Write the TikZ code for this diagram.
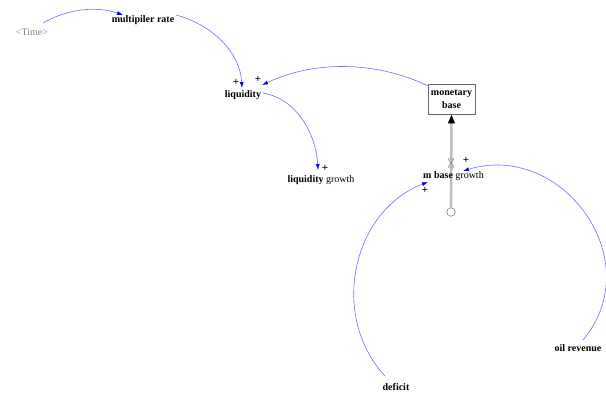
\documentclass[tikz,border=0pt]{standalone}
\usepackage{fontspec}
\setmainfont{Liberation Serif}
\usetikzlibrary{arrows.meta,calc,shapes.symbols}
\definecolor{linkblue}{RGB}{110,110,255}
\begin{document}
\begin{tikzpicture}[x=1pt,y=1pt,
  var/.style={font=\fontsize{10}{12}\selectfont\bfseries, inner sep=1pt},
  shadowvar/.style={font=\fontsize{10}{12}\selectfont, text=gray, inner sep=1pt},
  stockbox/.style={draw=gray!80!black, line width=0.8pt, minimum width=47pt, minimum height=30pt,
    inner sep=1pt, align=center, font=\fontsize{10}{13}\selectfont\bfseries},
  link/.style={draw=linkblue, line width=0.6pt, -{Latex[length=6pt,width=4pt,color=blue]}},
  polarity/.style={font=\fontsize{11}{11}\selectfont\bfseries, inner sep=0pt},
  flowpipe/.style={draw=gray!50, line width=2.6pt, -{Triangle[length=9pt,width=6.5pt,color=black]}},
  valvestyle/.style={minimum width=6pt, minimum height=8pt, inner sep=0pt,
    path picture={\draw[gray, line width=0.5pt]
      (path picture bounding box.north west) -- (path picture bounding box.north east)
      -- (path picture bounding box.south west) -- (path picture bounding box.south east) -- cycle;}},
  cloudstyle/.style={cloud, cloud puffs=8, aspect=1, draw=gray, fill=white, line width=0.5pt,
    minimum width=9pt, minimum height=9pt, inner sep=0pt}
]
\useasboundingbox (0,0) rectangle (606,-396);

% stock and flow
\node[stockbox] (mb) at (451.5,-99) {monetary\\base};
\node[cloudstyle] (cloud) at (451,-212) {};
\draw[flowpipe] (cloud.north) -- (mb.south);
\node[valvestyle] (valve) at (451,-163) {};

% variables
\node[shadowvar] (time) at (32,-32) {<Time>};
\node[var] (mr) at (143,-20) {multipiler rate};
\node[var] (liq) at (243,-95) {liquidity};
\node[var] (lg) at (321,-180) {liquidity \mdseries growth};
\node[var] (mbg) at (453.5,-176) {m base \mdseries growth};
\node[var] (oil) at (578,-348) {oil revenue};
\node[var] (def) at (396,-387) {deficit};

% causal links
\draw[link] ($(time)+(11,9)$) to[out=30,in=161,looseness=0.9] ($(mr)+(-20,5)$);
\draw[link] ($(mr)+(33,5)$) to[out=-15,in=93,looseness=0.95] ($(liq)+(-1,7)$);
\draw[link] ($(mb.north west)+(0,-2)$) to[out=155,in=25,looseness=0.9] ($(liq)+(19,10)$);
\draw[link] ($(liq)+(20,2)$) to[out=-10,in=93,looseness=0.95] ($(lg)+(-3,10)$);
\draw[link] ($(oil)+(5,8)$) to[out=50,in=17,looseness=1.28] ($(mbg)+(9.5,5)$);
\draw[link] ($(def)+(-11,11)$) to[out=133,in=201,looseness=1.05] ($(mbg)+(-25.5,-6)$);

% polarities
\node[polarity] (p1) at (236,-82) {+};
\node[polarity] (p2) at (258,-79) {+};
\node[polarity] (p3) at (325,-168) {+};
\node[polarity] (p4) at (466,-160) {+};
\node[polarity] (p5) at (425,-190) {+};
\end{tikzpicture}
\end{document}
